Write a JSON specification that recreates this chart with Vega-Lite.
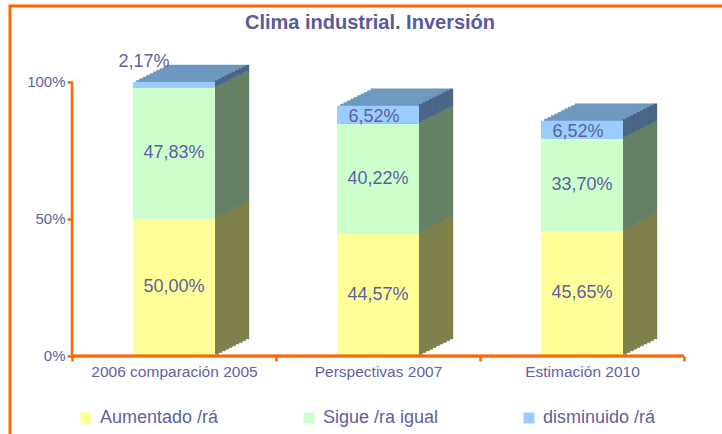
{
  "$schema": "https://vega.github.io/schema/vega-lite/v6.json",
  "width": 720,
  "height": 436,
  "autosize": {"type": "none"},
  "padding": {"left": 10, "top": 6, "right": -8, "bottom": -8},
  "title": {"text": "Clima industrial. Inversión", "fontSize": 20, "fontWeight": "bold", "color": "#5a5a99", "anchor": "middle", "frame": "group", "offset": -27, "font": "Liberation Sans"},
  "data": {"values": [
    {"cat": "2006 comparación 2005", "serie": "Aumentado /rá", "value": 0.5, "ord": 1},
    {"cat": "2006 comparación 2005", "serie": "Sigue /ra igual", "value": 0.4783, "ord": 2},
    {"cat": "2006 comparación 2005", "serie": "disminuido /rá", "value": 0.0217, "ord": 3},
    {"cat": "Perspectivas 2007", "serie": "Aumentado /rá", "value": 0.4457, "ord": 1},
    {"cat": "Perspectivas 2007", "serie": "Sigue /ra igual", "value": 0.4022, "ord": 2},
    {"cat": "Perspectivas 2007", "serie": "disminuido /rá", "value": 0.0652, "ord": 3},
    {"cat": "Estimación 2010", "serie": "Aumentado /rá", "value": 0.4565, "ord": 1},
    {"cat": "Estimación 2010", "serie": "Sigue /ra igual", "value": 0.337, "ord": 2},
    {"cat": "Estimación 2010", "serie": "disminuido /rá", "value": 0.0652, "ord": 3}
  ]},
  "encoding": {
    "x": {"field": "cat", "type": "nominal", "scale": {"domain": ["2006 comparación 2005", "Perspectivas 2007", "Estimación 2010"], "paddingInner": 0, "paddingOuter": 0.2647, "align": 0.574},
      "axis": {"orient": "bottom", "offset": -86, "domain": false, "tickBand": "extent", "tickColor": "#ff6600", "tickWidth": 2.5, "tickSize": 5, "labelFontSize": 15.5, "labelColor": "#62629e", "labelPadding": 3, "labelAngle": 0, "title": null, "grid": false}},
    "y": {"field": "value", "type": "quantitative", "stack": "zero", "scale": {"domain": [-0.31387, 1.27737], "nice": false, "zero": false},
      "axis": {"orient": "left", "offset": -62, "domain": false, "values": [0, 0.5, 1], "format": "%", "tickColor": "#ff6600", "tickWidth": 2.5, "tickSize": 5, "labelFontSize": 15, "labelColor": "#62629e", "labelPadding": 2, "title": null, "grid": false}}
  },
  "layer": [
    {"mark": {"type": "bar", "width": 82, "color": "#6f99bf", "stroke": "#6f99bf", "strokeWidth": 0.5, "xOffset": 34, "yOffset": -17, "y2Offset": -17}, "encoding": {"order": {"field": "ord", "type": "quantitative"}, "detail": {"field": "serie", "type": "nominal"}}},
    {"mark": {"type": "bar", "width": 82, "color": "#6f99bf", "stroke": "#6f99bf", "strokeWidth": 0.5, "xOffset": 30.6, "yOffset": -15.3, "y2Offset": -15.3}, "encoding": {"order": {"field": "ord", "type": "quantitative"}, "detail": {"field": "serie", "type": "nominal"}}},
    {"mark": {"type": "bar", "width": 82, "color": "#6f99bf", "stroke": "#6f99bf", "strokeWidth": 0.5, "xOffset": 27.2, "yOffset": -13.6, "y2Offset": -13.6}, "encoding": {"order": {"field": "ord", "type": "quantitative"}, "detail": {"field": "serie", "type": "nominal"}}},
    {"mark": {"type": "bar", "width": 82, "color": "#6f99bf", "stroke": "#6f99bf", "strokeWidth": 0.5, "xOffset": 23.8, "yOffset": -11.9, "y2Offset": -11.9}, "encoding": {"order": {"field": "ord", "type": "quantitative"}, "detail": {"field": "serie", "type": "nominal"}}},
    {"mark": {"type": "bar", "width": 82, "color": "#6f99bf", "stroke": "#6f99bf", "strokeWidth": 0.5, "xOffset": 20.4, "yOffset": -10.2, "y2Offset": -10.2}, "encoding": {"order": {"field": "ord", "type": "quantitative"}, "detail": {"field": "serie", "type": "nominal"}}},
    {"mark": {"type": "bar", "width": 82, "color": "#6f99bf", "stroke": "#6f99bf", "strokeWidth": 0.5, "xOffset": 17, "yOffset": -8.5, "y2Offset": -8.5}, "encoding": {"order": {"field": "ord", "type": "quantitative"}, "detail": {"field": "serie", "type": "nominal"}}},
    {"mark": {"type": "bar", "width": 82, "color": "#6f99bf", "stroke": "#6f99bf", "strokeWidth": 0.5, "xOffset": 13.6, "yOffset": -6.8, "y2Offset": -6.8}, "encoding": {"order": {"field": "ord", "type": "quantitative"}, "detail": {"field": "serie", "type": "nominal"}}},
    {"mark": {"type": "bar", "width": 82, "color": "#6f99bf", "stroke": "#6f99bf", "strokeWidth": 0.5, "xOffset": 10.2, "yOffset": -5.1, "y2Offset": -5.1}, "encoding": {"order": {"field": "ord", "type": "quantitative"}, "detail": {"field": "serie", "type": "nominal"}}},
    {"mark": {"type": "bar", "width": 82, "color": "#6f99bf", "stroke": "#6f99bf", "strokeWidth": 0.5, "xOffset": 6.8, "yOffset": -3.4, "y2Offset": -3.4}, "encoding": {"order": {"field": "ord", "type": "quantitative"}, "detail": {"field": "serie", "type": "nominal"}}},
    {"mark": {"type": "bar", "width": 82, "color": "#6f99bf", "stroke": "#6f99bf", "strokeWidth": 0.5, "xOffset": 3.4, "yOffset": -1.7, "y2Offset": -1.7}, "encoding": {"order": {"field": "ord", "type": "quantitative"}, "detail": {"field": "serie", "type": "nominal"}}},
    {"mark": {"type": "bar", "width": 3.9, "xOffset": 42.7, "yOffset": -1.7, "y2Offset": -1.7}, "encoding": {"order": {"field": "ord", "type": "quantitative"}, "color": {"field": "serie", "type": "nominal", "scale": {"domain": ["Aumentado /rá", "Sigue /ra igual", "disminuido /rá"], "range": ["#80804b", "#658065", "#4c6584"]}, "legend": null}}},
    {"mark": {"type": "bar", "width": 3.9, "xOffset": 46.1, "yOffset": -3.4, "y2Offset": -3.4}, "encoding": {"order": {"field": "ord", "type": "quantitative"}, "color": {"field": "serie", "type": "nominal", "scale": {"domain": ["Aumentado /rá", "Sigue /ra igual", "disminuido /rá"], "range": ["#80804b", "#658065", "#4c6584"]}, "legend": null}}},
    {"mark": {"type": "bar", "width": 3.9, "xOffset": 49.5, "yOffset": -5.1, "y2Offset": -5.1}, "encoding": {"order": {"field": "ord", "type": "quantitative"}, "color": {"field": "serie", "type": "nominal", "scale": {"domain": ["Aumentado /rá", "Sigue /ra igual", "disminuido /rá"], "range": ["#80804b", "#658065", "#4c6584"]}, "legend": null}}},
    {"mark": {"type": "bar", "width": 3.9, "xOffset": 52.9, "yOffset": -6.8, "y2Offset": -6.8}, "encoding": {"order": {"field": "ord", "type": "quantitative"}, "color": {"field": "serie", "type": "nominal", "scale": {"domain": ["Aumentado /rá", "Sigue /ra igual", "disminuido /rá"], "range": ["#80804b", "#658065", "#4c6584"]}, "legend": null}}},
    {"mark": {"type": "bar", "width": 3.9, "xOffset": 56.3, "yOffset": -8.5, "y2Offset": -8.5}, "encoding": {"order": {"field": "ord", "type": "quantitative"}, "color": {"field": "serie", "type": "nominal", "scale": {"domain": ["Aumentado /rá", "Sigue /ra igual", "disminuido /rá"], "range": ["#80804b", "#658065", "#4c6584"]}, "legend": null}}},
    {"mark": {"type": "bar", "width": 3.9, "xOffset": 59.7, "yOffset": -10.2, "y2Offset": -10.2}, "encoding": {"order": {"field": "ord", "type": "quantitative"}, "color": {"field": "serie", "type": "nominal", "scale": {"domain": ["Aumentado /rá", "Sigue /ra igual", "disminuido /rá"], "range": ["#80804b", "#658065", "#4c6584"]}, "legend": null}}},
    {"mark": {"type": "bar", "width": 3.9, "xOffset": 63.1, "yOffset": -11.9, "y2Offset": -11.9}, "encoding": {"order": {"field": "ord", "type": "quantitative"}, "color": {"field": "serie", "type": "nominal", "scale": {"domain": ["Aumentado /rá", "Sigue /ra igual", "disminuido /rá"], "range": ["#80804b", "#658065", "#4c6584"]}, "legend": null}}},
    {"mark": {"type": "bar", "width": 3.9, "xOffset": 66.5, "yOffset": -13.6, "y2Offset": -13.6}, "encoding": {"order": {"field": "ord", "type": "quantitative"}, "color": {"field": "serie", "type": "nominal", "scale": {"domain": ["Aumentado /rá", "Sigue /ra igual", "disminuido /rá"], "range": ["#80804b", "#658065", "#4c6584"]}, "legend": null}}},
    {"mark": {"type": "bar", "width": 3.9, "xOffset": 69.9, "yOffset": -15.3, "y2Offset": -15.3}, "encoding": {"order": {"field": "ord", "type": "quantitative"}, "color": {"field": "serie", "type": "nominal", "scale": {"domain": ["Aumentado /rá", "Sigue /ra igual", "disminuido /rá"], "range": ["#80804b", "#658065", "#4c6584"]}, "legend": null}}},
    {"mark": {"type": "bar", "width": 3.6, "xOffset": 73.2, "yOffset": -17, "y2Offset": -17}, "encoding": {"order": {"field": "ord", "type": "quantitative"}, "color": {"field": "serie", "type": "nominal", "scale": {"domain": ["Aumentado /rá", "Sigue /ra igual", "disminuido /rá"], "range": ["#80804b", "#658065", "#4c6584"]}, "legend": null}}},
    {"mark": {"type": "bar", "width": 82},
     "encoding": {"order": {"field": "ord", "type": "quantitative"}, "color": {"field": "serie", "type": "nominal", "scale": {"domain": ["Aumentado /rá", "Sigue /ra igual", "disminuido /rá"], "range": ["#ffff99", "#ccffcc", "#99ccff"]},
       "legend": {"title": null, "orient": "none", "legendX": 67, "legendY": 403, "direction": "horizontal", "columns": 3, "columnPadding": 81, "padding": 0, "symbolType": "square", "symbolSize": 121, "symbolStrokeWidth": 0, "labelFontSize": 18, "labelColor": "#5f5f9e", "labelOffset": 5, "labelFont": "Liberation Sans", "labelLimit": 300}}}},
    {"transform": [{"filter": "datum.ord == 1"}],
     "mark": {"type": "bar", "width": 2.5, "color": "#ff6600", "xOffset": -102},
     "encoding": {
       "x": {"field": "cat", "type": "nominal", "sort": null, "scale": {"domain": ["2006 comparación 2005", "Perspectivas 2007", "Estimación 2010"], "paddingInner": 0, "paddingOuter": 0.2647, "align": 0.574}},
       "opacity": {"condition": {"test": "datum.cat == '2006 comparación 2005'", "value": 1}, "value": 0},
       "y": {"datum": 0, "type": "quantitative"},
       "y2": {"datum": 1}}},
    {"mark": {"type": "bar", "fill": null, "fillOpacity": 0, "stroke": "#ff6600", "strokeWidth": 2.5},
     "encoding": {
       "y": {"datum": 0, "type": "quantitative"},
       "y2": {"datum": 0}}},
    {"mark": {"type": "text", "fontSize": 18, "color": "#5f5f9e", "font": "Liberation Sans", "baseline": "middle"},
     "encoding": {"y": {"field": "value", "type": "quantitative", "stack": "zero", "bandPosition": 0.5}, "order": {"field": "ord", "type": "quantitative"}, "detail": {"field": "serie", "type": "nominal"}, "text": {"field": "value", "type": "quantitative", "format": ".2%"},
       "opacity": {"condition": {"test": "datum.value >= 0.1", "value": 1}, "value": 0}}},
    {"mark": {"type": "text", "fontSize": 18, "color": "#5f5f9e", "font": "Liberation Sans", "baseline": "middle", "dx": -4, "dy": 2},
     "encoding": {"y": {"field": "value", "type": "quantitative", "stack": "zero", "bandPosition": 0.5}, "order": {"field": "ord", "type": "quantitative"}, "detail": {"field": "serie", "type": "nominal"}, "text": {"field": "value", "type": "quantitative", "format": ".2%"},
       "opacity": {"condition": {"test": "datum.value >= 0.05 && datum.value < 0.1", "value": 1}, "value": 0}}},
    {"mark": {"type": "text", "fontSize": 18, "color": "#5f5f9e", "font": "Liberation Sans", "baseline": "middle", "dx": -30, "dy": -23},
     "encoding": {"y": {"field": "value", "type": "quantitative", "stack": "zero", "bandPosition": 0.5}, "order": {"field": "ord", "type": "quantitative"}, "detail": {"field": "serie", "type": "nominal"}, "text": {"field": "value", "type": "quantitative", "format": ".2%"},
       "opacity": {"condition": {"test": "datum.value < 0.05", "value": 1}, "value": 0}}}
  ],
  "resolve": {"scale": {"color": "independent"}},
  "config": {
    "view": {"stroke": "#ff6600", "strokeWidth": 3},
    "font": "Liberation Sans",
    "locale": {"number": {"decimal": ",", "thousands": ".", "grouping": [3], "currency": ["", " €"]}},
    "axis": {"labelFont": "Liberation Sans"}
  }
}
